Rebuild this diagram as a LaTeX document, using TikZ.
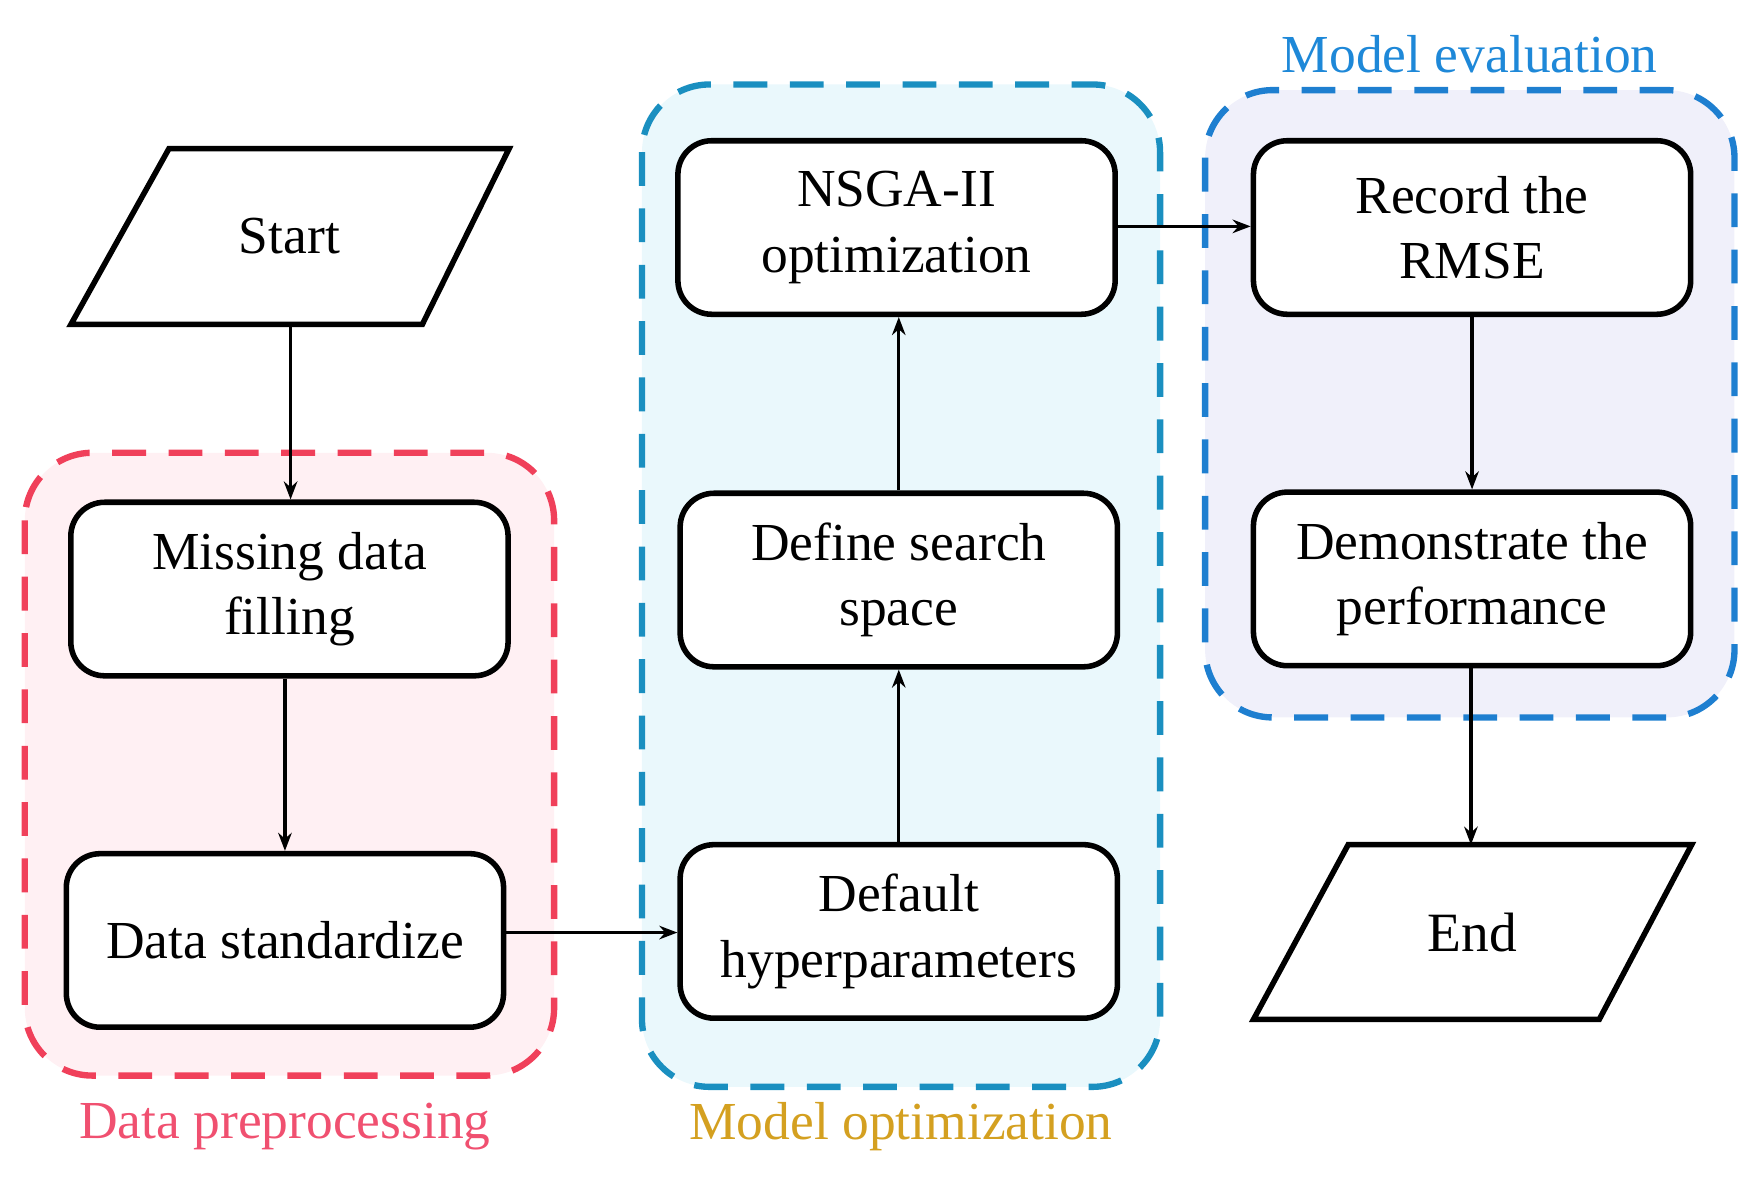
\documentclass[tikz,border=0pt]{standalone}
\usepackage{fontspec}
\setmainfont{Liberation Serif}
\usetikzlibrary{shapes.geometric,arrows.meta}
\definecolor{redS}{HTML}{F0405A}\definecolor{redF}{HTML}{FFF0F3}
\definecolor{bluS}{HTML}{1A8FC0}\definecolor{bluF}{HTML}{EAF8FC}
\definecolor{purS}{HTML}{1E7FD0}\definecolor{purF}{HTML}{F0F0FA}
\definecolor{labR}{HTML}{F05070}\definecolor{labY}{HTML}{D4A020}\definecolor{labB}{HTML}{1E88D8}
\begin{document}
\begin{tikzpicture}[x=0.01cm,y=-0.01cm,
 box/.style={draw,line width=1.4pt,rounded corners=0.3cm,fill=white,minimum width=3.88cm,minimum height=1.54cm,align=center,font=\fontsize{13.5}{16.5}\selectfont},
 grp/.style={line width=1.6pt,dash pattern=on 0.3cm off 0.2cm,rounded corners=0.6cm},
 arr/.style={-{Stealth[length=0.16cm,width=0.12cm]},line width=0.8pt},
 lab/.style={font=\fontsize{13.5}{15}\selectfont}]
\useasboundingbox (0,0) rectangle (1560,1058);
\draw[grp,draw=redS,fill=redF] (22,402) rectangle (492,955);
\draw[grp,draw=bluS,fill=bluF] (570,75) rectangle (1030,965);
\draw[grp,draw=purS,fill=purF] (1070,80) rectangle (1540,637);
\draw[line width=1.4pt,fill=white] (150,132)--(452,132)--(375,288)--(63,288)--cycle;
\node[font=\fontsize{13.5}{15}\selectfont] (start) at (257,210) {Start};
\coordinate (startb) at (258,288);
\draw[line width=1.4pt,fill=white] (1197,750)--(1502,750)--(1420,905)--(1113,905)--cycle;
\node[font=\fontsize{14}{15}\selectfont] (end) at (1307,828) {End};
\coordinate (endt) at (1306,750);
\node[box] (miss) at (257,523) {Missing data\\filling};
\node[box] (std) at (253,835) {Data standardize};
\node[box] (nsga) at (796,202) {NSGA-II\\optimization};
\node[box] (def) at (798,515) {Define search\\space};
\node[box] (dflt) at (798,827) {Default\\hyperparameters};
\node[box] (rec) at (1307,202) {Record the\\RMSE};
\node[box] (dem) at (1307,514) {Demonstrate the\\performance};
\draw[arr] (startb) -- (miss.north -| startb);
\draw[arr] (miss.south -| std) -- (std);
\draw[arr] (std.east |- 0,828) -- (dflt.west |- 0,828);
\draw[arr] (dflt) -- (def);
\draw[arr] (def) -- (nsga.south -| def);
\draw[arr] (nsga.east |- 0,201) -- (rec.west |- 0,201);
\draw[arr] (rec) -- (dem);
\draw[arr] (dem.south -| endt) -- (endt);
\node[lab,text=labB] (l1) at (1305,48) {Model evaluation};
\node[lab,text=labR] (l2) at (253,1000) {Data preprocessing};
\node[lab,text=labY] (l3) at (800,1000) {Model optimization};
\end{tikzpicture}
\end{document}
